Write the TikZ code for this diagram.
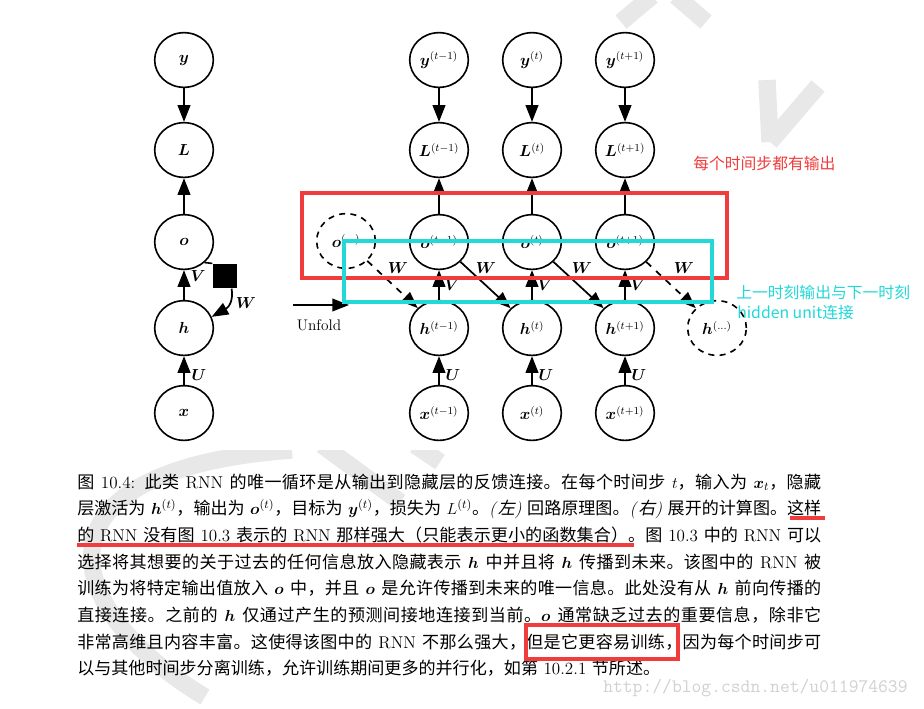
\documentclass[tikz,border=0pt]{standalone}
\usepackage{amsmath,bm}
\usepackage{fontspec}
\usetikzlibrary{arrows.meta,shapes.geometric}
\newfontfamily\cjk{Noto Sans CJK SC}
\newfontfamily\cjksl{Noto Sans CJK SC}[FakeSlant=0.2]
\newfontfamily\annofont{Noto Sans CJK SC}
\def\cjkcur{\cjk}
\XeTeXinterchartokenstate=1
\newXeTeXintercharclass\CJKcls
\newcount\cjkc
\cjkc="4E00 \loop\XeTeXcharclass\cjkc=\CJKcls\ifnum\cjkc<"9FFF\advance\cjkc by 1\repeat
\cjkc="3000 \loop\XeTeXcharclass\cjkc=\CJKcls\ifnum\cjkc<"303F\advance\cjkc by 1\repeat
\cjkc="FF00 \loop\XeTeXcharclass\cjkc=\CJKcls\ifnum\cjkc<"FFEF\advance\cjkc by 1\repeat
\XeTeXinterchartoks 0 \CJKcls = {\begingroup\cjkcur}
\XeTeXinterchartoks 4095 \CJKcls = {\begingroup\cjkcur}
\XeTeXinterchartoks \CJKcls 0 = {\endgroup}
\XeTeXinterchartoks \CJKcls 4095 = {\endgroup}
\XeTeXinterchartoks \CJKcls \CJKcls = {\hskip 0pt plus 0.8pt minus 0.2pt\relax}
\definecolor{annored}{HTML}{F03C3C}
\definecolor{annocyan}{HTML}{22D8D8}
\begin{document}
\begin{tikzpicture}[x=0.75pt,y=-0.75pt,
  every node/.style={inner sep=0pt},
  nd/.style={ellipse,draw,line width=1.2pt,minimum width=44pt,minimum height=41pt,font=\fontsize{12}{14}\selectfont},
  dnd/.style={nd,dash pattern=on 4.5pt off 4pt},
  arr/.style={line width=1.3pt,-{Triangle[length=12.5pt,width=9.5pt]}},
  darr/.style={arr,dash pattern=on 5pt off 5pt},
  lab/.style={font=\fontsize{12}{14}\selectfont},
  capline/.style={anchor=base west,font=\fontsize{12.8}{15}\selectfont},
  redbox/.style={draw=annored,line width=2.3pt},
  cyanbox/.style={draw=annocyan,line width=2.3pt},
  wm/.style={draw=black!9,line width=13pt,line cap=butt}
]
\fill[white] (0,0) rectangle (924,708);
\useasboundingbox (0,0) rectangle (924,708);
% faint watermark strokes
\draw[wm] (621,22) -- (652,-4);
\draw[wm] (676,-4) -- (706,22);
\draw[wm] (767,80) -- (770,142);
\draw[wm] (818,86) -- (770,142);
\begin{scope}
\clip (0,450) rectangle (924,708);
\draw[wm] (292,450) .. controls (20,470) and (60,610) .. (205,697);
\draw[wm] (322,445) -- (400,502);
\draw[wm] (415,445) -- (440,462);
\end{scope}
% ---------- left diagram ----------
\node[nd] (y) at (184,60) {$\bm{y}$};
\node[nd] (L) at (184,150) {$\bm{L}$};
\node[nd] (o) at (184,242) {$\bm{o}$};
\node[nd] (h) at (184,328) {$\bm{h}$};
\node[nd] (x) at (184,413) {$\bm{x}$};
\draw[arr] (y) -- (L);
\draw[arr] (o) -- (L);
\draw[arr] (h) -- (o);
\draw[arr] (x) -- (h);
\node[fill=black,minimum size=18.5pt] (sq) at (225,276) {};
\draw[line width=1.2pt] (o.-45) -- (sq.north west);
\draw[arr] ([xshift=5pt]sq.south) .. controls +(2,14) and +(16,-9) .. (h.22);
\node[lab] (lV) at (198,276) {$\bm{V}$};
\node[lab] (lW) at (246,303) {$\bm{W}$};
\node[lab] (lU) at (199,375) {$\bm{U}$};
% ---------- unfold ----------
\coordinate (u0) at (293,305);
\coordinate (u1) at (349,305);
\draw[arr] (u0) -- (u1);
\node[font=\fontsize{11.5}{13}\selectfont] (unf) at (319,325) {Unfold};
% ---------- right diagram ----------
\foreach \i/\cx/\s in {1/439/{t-1},2/532/{t},3/625/{t+1}}{
  \node[nd] (y\i) at (\cx,60) {$\bm{y}^{(\s)}$};
  \node[nd] (L\i) at (\cx,150) {$\bm{L}^{(\s)}$};
  \node[nd] (o\i) at (\cx,242) {$\bm{o}^{(\s)}$};
  \node[nd] (h\i) at (\cx,328) {$\bm{h}^{(\s)}$};
  \node[nd] (x\i) at (\cx,413) {$\bm{x}^{(\s)}$};
  \draw[arr] (y\i) -- (L\i);
  \draw[arr] (o\i) -- (L\i);
  \draw[arr] (h\i) -- (o\i);
  \draw[arr] (x\i) -- (h\i);
  \node[lab] (V\i) at (\cx+13,285) {$\bm{V}$};
  \node[lab] (U\i) at (\cx+14,375) {$\bm{U}$};
}
\node[dnd] (o0) at (346,241) {$\bm{o}^{(\ldots)}$};
\node[dnd] (h4) at (717,328) {$\bm{h}^{(\ldots)}$};
\draw[darr] (o0) -- (h1);
\draw[arr] (o1) -- (h2);
\draw[arr] (o2) -- (h3);
\draw[darr] (o3) -- (h4);
\node[lab] (W1) at (398,268) {$\bm{W}$};
\node[lab] (W2) at (486,268) {$\bm{W}$};
\node[lab] (W3) at (582,268) {$\bm{W}$};
\node[lab] (W4) at (684,268) {$\bm{W}$};
% ---------- annotation boxes ----------
\draw[redbox] (302,193) rectangle (727,278);
\draw[cyanbox] (344,241) rectangle (712,302);
\node[anchor=base west,text=annored,font=\annofont\fontsize{11.85}{14}\selectfont] (t1) at (693,169) {每个时间步都有输出};
\node[anchor=base west,text=annocyan,font=\annofont\fontsize{11.85}{14}\selectfont] (t2) at (736,298) {上一时刻输出与下一时刻};
\node[anchor=base west,text=annocyan,font=\annofont\fontsize{11.85}{14}\selectfont] (t3) at (737,318) {hidden unit连接};
% ---------- caption ----------
\node[capline] (c1) at (77,488) {\hbox to 558pt{图 10.4: 此类 RNN 的唯一循环是从输出到隐藏层的反馈连接。在每个时间步 $t$，输入为 $\bm{x}_t$，隐藏}};
\node[capline] (c2) at (77,514.7) {\hbox to 558pt{层激活为 $\bm{h}^{(t)}$，输出为 $\bm{o}^{(t)}$，目标为 $\bm{y}^{(t)}$，损失为 $L^{(t)}$。\textit{(}{\def\cjkcur{\cjksl}左}\textit{)} 回路原理图。\textit{(}{\def\cjkcur{\cjksl}右}\textit{)} 展开的计算图。这样}};
\node[capline] (c3) at (77,541.4) {\hbox to 558pt{的 RNN 没有图 10.3 表示的 RNN 那样强大（只能表示更小的函数集合）。图 10.3 中的 RNN 可以}};
\node[capline] (c4) at (77,568.1) {\hbox to 558pt{选择将其想要的关于过去的任何信息放入隐藏表示 $\bm{h}$ 中并且将 $\bm{h}$ 传播到未来。该图中的 RNN 被}};
\node[capline] (c5) at (77,594.8) {\hbox to 558pt{训练为将特定输出值放入 $\bm{o}$ 中，并且 $\bm{o}$ 是允许传播到未来的唯一信息。此处没有从 $\bm{h}$ 前向传播的}};
\node[capline] (c6) at (77,621.5) {\hbox to 558pt{直接连接。之前的 $\bm{h}$ 仅通过产生的预测间接地连接到当前。$\bm{o}$ 通常缺乏过去的重要信息，除非它}};
\node[capline] (c7) at (77,648.2) {\hbox to 558pt{非常高维且内容丰富。这使得该图中的 RNN 不那么强大，但是它更容易训练，因为每个时间步可}};
\node[capline] (c8) at (77,674.9) {以与其他时间步分离训练，允许训练期间更多的并行化，如第 10.2.1 节所述。};
\draw[annored,line width=2.3pt] (77,545) -- (634,545);
\draw[annored,line width=2.3pt] (790,518) -- (825,518);
\draw[redbox] (526,625) rectangle (678,659);
\node[anchor=base west,text=black!18,font=\ttfamily\fontsize{14.3}{16}\selectfont] (wmt) at (603,692) {http://blog.csdn.net/u011974639};
\end{tikzpicture}
\end{document}
